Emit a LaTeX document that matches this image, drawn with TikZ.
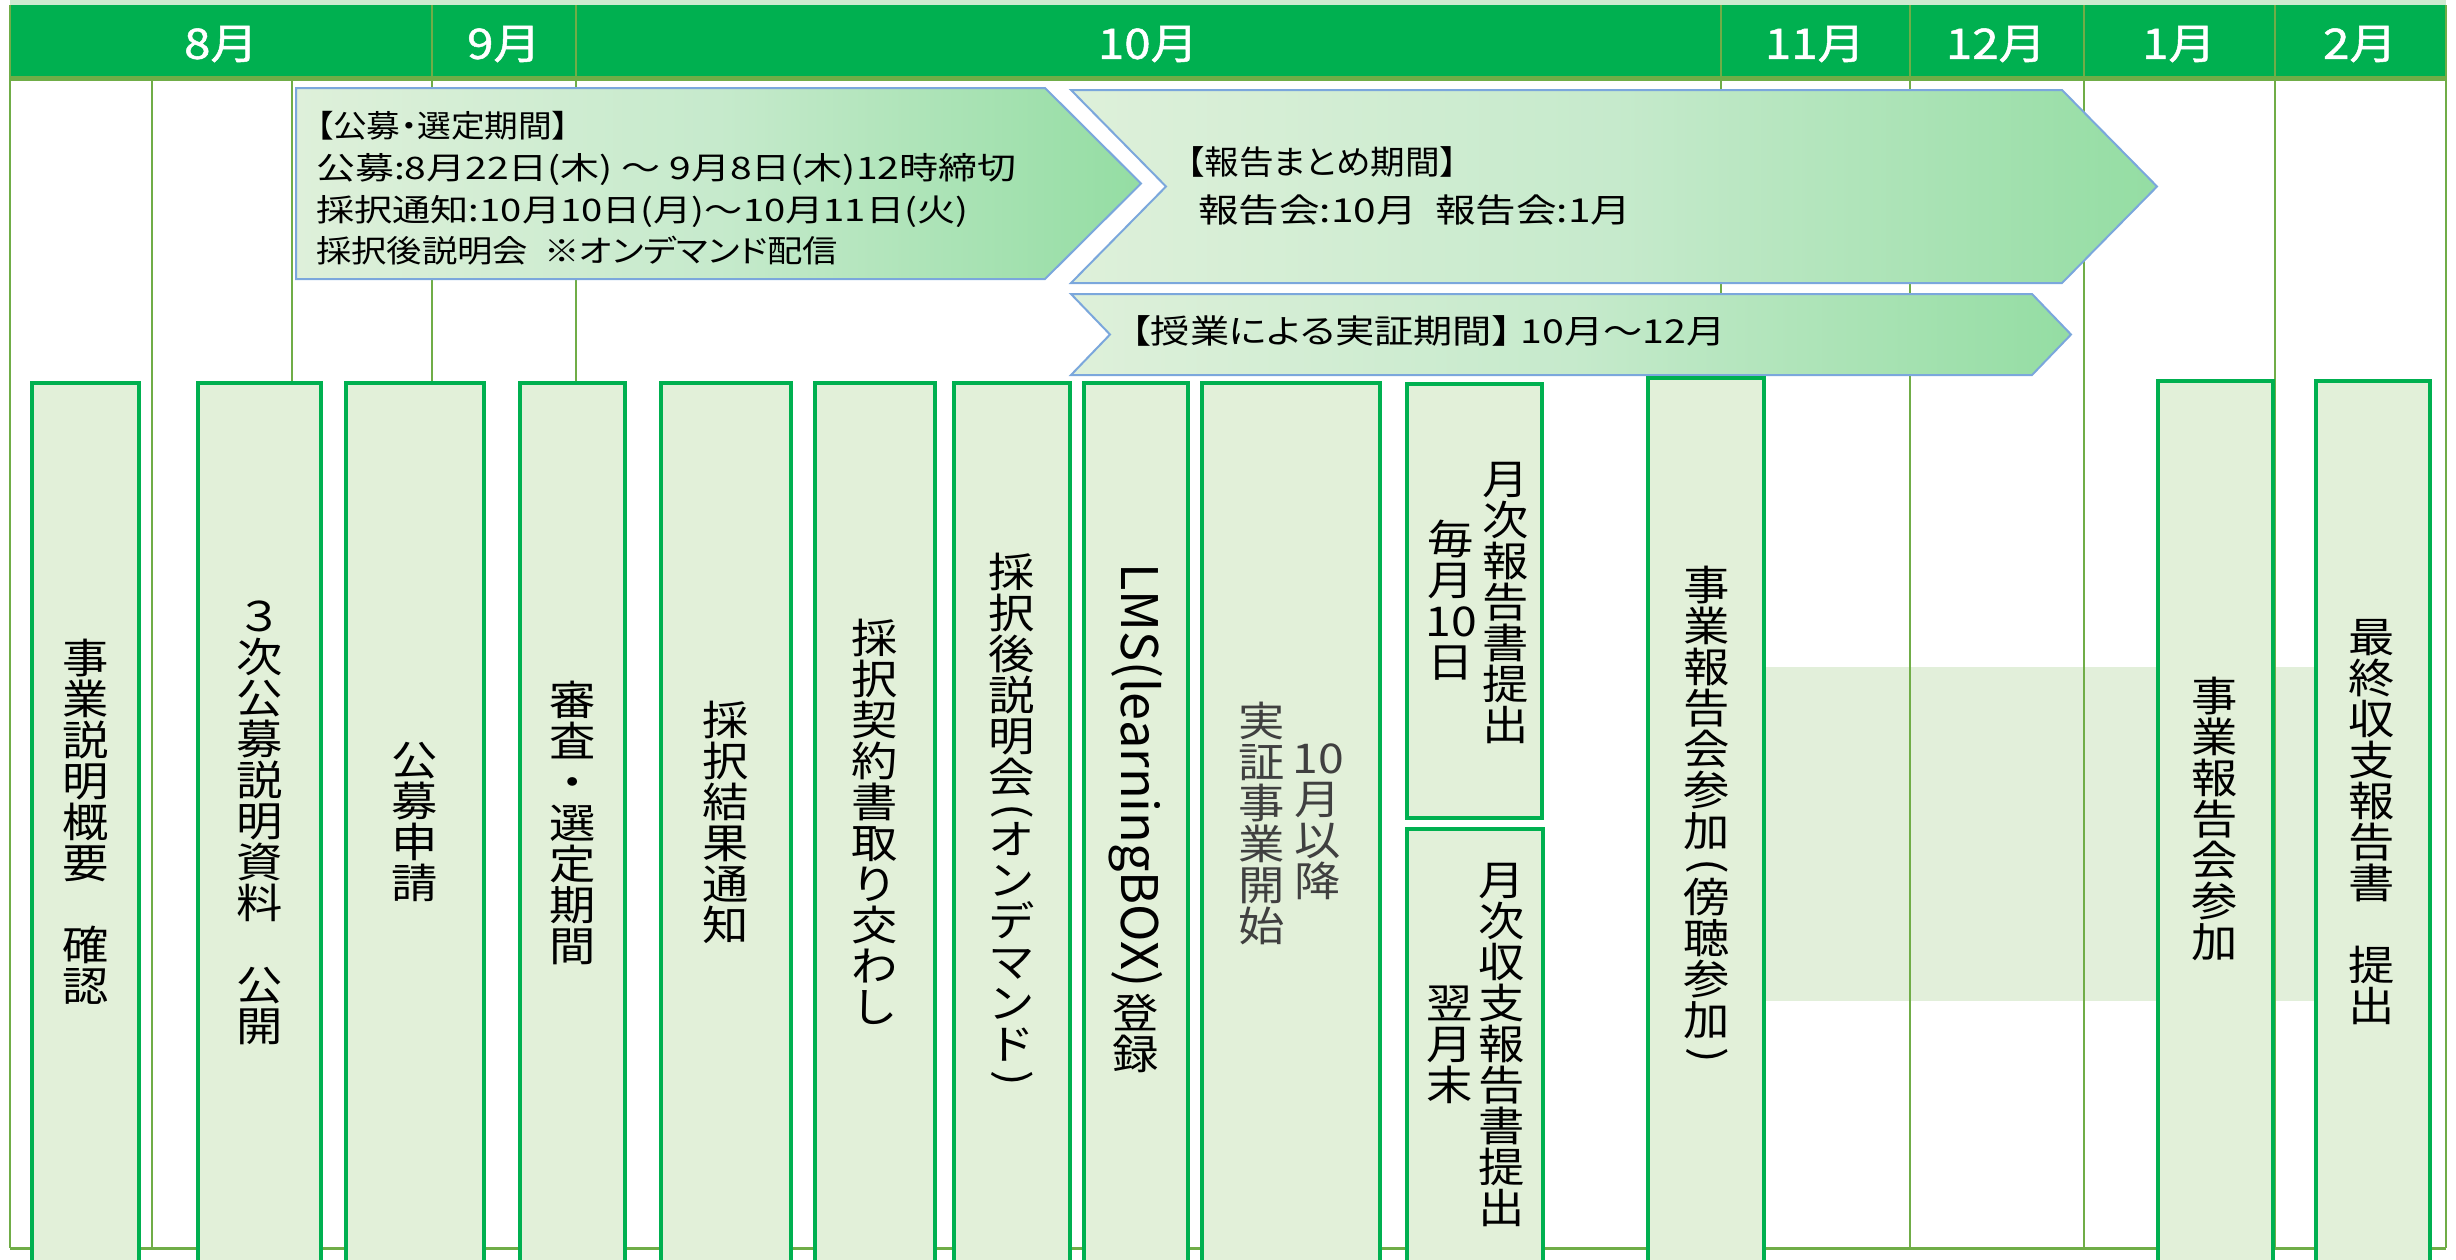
\documentclass[tikz,border=0pt]{standalone}
\usepackage{fontspec}
\usepackage{graphicx}
\newfontfamily\jp[FakeStretch=1.13]{Noto Sans CJK JP}
\newfontfamily\jpm[FakeStretch=1.13,FakeBold=1.2]{Noto Sans CJK JP}
\newfontfamily\jpa[FakeStretch=1.13,RawFeature=+palt]{Noto Sans CJK JP}
\newfontfamily\jpn{Noto Sans CJK JP}
\definecolor{hdrgreen}{HTML}{00B050}
\definecolor{gridolive}{HTML}{70AD47}
\definecolor{boxfill}{HTML}{E2F0D9}
\definecolor{boxline}{HTML}{00B050}
\definecolor{bandfill}{HTML}{E2EFDA}
\definecolor{topstrip}{HTML}{CDEACF}
\definecolor{arrowline}{HTML}{7BA7DC}
\definecolor{agA}{HTML}{DEF0DA}
\definecolor{agB}{HTML}{C6EACC}
\definecolor{agC}{HTML}{94DDA3}
\definecolor{graytext}{HTML}{404040}
\pgfdeclarehorizontalshading{arrowshade}{100bp}{color(0bp)=(agA); color(25bp)=(agA); color(50bp)=(agB); color(75bp)=(agC); color(100bp)=(agC)}
\newcommand\vparen[1]{\rotatebox[origin=c]{-90}{#1}}
\newcommand\vfont{\jp\fontsize{41}{41}\selectfont\lineskiplimit=-100pt\lineskip=0pt\relax}
\newcommand\afontA{\jpa\fontsize{31}{41.7}\selectfont\lineskiplimit=-100pt\relax}
\newcommand\afontB{\jpa\fontsize{33}{48}\selectfont\lineskiplimit=-100pt\relax}
\tikzset{
  gridline/.style={draw=gridolive, line width=2.5pt},
  pbox/.style={draw=boxline, line width=4pt, fill=boxfill, rectangle, inner sep=0pt},
  vtext/.style={align=center, inner sep=0pt, font={\vfont}},
  month/.style={text=white, inner sep=0pt, font={\jpm\fontsize{42}{42}\selectfont}},
  arrowbox/.style={shading=arrowshade, draw=arrowline, line width=2pt},
  atext/.style={align=left, inner sep=0pt, anchor=west},
}
\begin{document}
\begin{tikzpicture}[x=1pt,y=-1pt]
\useasboundingbox (0,0) rectangle (2456,1259);
% header
\fill[topstrip] (10,0) rectangle (2446,5);
\fill[hdrgreen] (10,5) rectangle (2446,78);
% light band
\fill[bandfill] (1766,667) rectangle (2314,1001);
% grid lines
\foreach \gx in {10,432,576,1721,1910,2084,2275,2446}{\draw[gridline] (\gx,5) -- (\gx,1248);}
\foreach \gx in {152,292}{\draw[gridline] (\gx,80) -- (\gx,1248);}
\draw[gridolive, line width=5pt] (10,78) -- (2446,78);
\draw[gridolive, line width=3pt] (10,1248) -- (2446,1248);
% month labels
\node[month] (m8) at (221,44) {8月};
\node[month] (m9) at (504,44) {9月};
\node[month] (m10) at (1148,44) {10月};
\node[month] (m11) at (1815,44) {11月};
\node[month] (m12) at (1996,44) {12月};
\node[month] (m1) at (2179,44) {1月};
\node[month] (m2) at (2360,44) {2月};
% arrows
\shadedraw[arrowbox] (296,88) -- (1045,88) -- (1141,183.5) -- (1045,279) -- (296,279) -- cycle;
\shadedraw[arrowbox] (1071,90) -- (2062,90) -- (2157,186.5) -- (2062,283) -- (1071,283) -- (1166,186.5) -- cycle;
\shadedraw[arrowbox] (1071,294) -- (2032,294) -- (2071,334.5) -- (2032,375) -- (1071,375) -- (1110,334.5) -- cycle;
\node[atext, font={\afontA}] (a1t) at (316,188.5)
 {\resizebox{253pt}{\height}{【公募・選定期間】}\\
  \resizebox{700pt}{\height}{公募:8月22日(木) ～ 9月8日(木)12時締切}\\
  \resizebox{652pt}{\height}{採択通知:10月10日(月)～10月11日(火)}\\
  \resizebox{522pt}{\height}{採択後説明会\ \ ※オンデマンド配信}};
\node[atext, font={\afontB}] (a2t) at (1187,186)
 {\resizebox{270pt}{\height}{【報告まとめ期間】}\\
  \hspace*{11pt}\resizebox{433pt}{\height}{報告会:10月\ \ 報告会:1月}};
\node[atext, font={\jpa\fontsize{33}{33}\selectfont}] (a3t) at (1131,331)
 {\resizebox{594pt}{\height}{【授業による実証期間】 10月～12月}};
% boxes
\node[pbox, minimum width=107pt, minimum height=881pt] (b1) at (85.5,823.5) {};
\node[pbox, minimum width=123pt, minimum height=881pt] (b2) at (259.5,823.5) {};
\node[pbox, minimum width=138pt, minimum height=881pt] (b3) at (415,823.5) {};
\node[pbox, minimum width=105pt, minimum height=881pt] (b4) at (572.5,823.5) {};
\node[pbox, minimum width=130pt, minimum height=881pt] (b5) at (726,823.5) {};
\node[pbox, minimum width=120pt, minimum height=881pt] (b6) at (875,823.5) {};
\node[pbox, minimum width=116pt, minimum height=881pt] (b7) at (1012,823.5) {};
\node[pbox, minimum width=104pt, minimum height=881pt] (b8) at (1136,823.5) {};
\node[pbox, minimum width=178pt, minimum height=881pt] (b9) at (1291,823.5) {};
\node[pbox, minimum width=135pt, minimum height=434pt] (b10a) at (1474.5,601) {};
\node[pbox, minimum width=136pt, minimum height=435pt] (b10b) at (1475,1046.5) {};
\node[pbox, minimum width=116pt, minimum height=884pt] (b11) at (1706,820) {};
\node[pbox, minimum width=115pt, minimum height=881pt] (b12) at (2215.5,821.5) {};
\node[pbox, minimum width=114pt, minimum height=883pt] (b13) at (2373,822.5) {};
% box texts
\node[vtext] (t1) at (85.5,822) {事\\業\\説\\明\\概\\要\\\mbox{}\\確\\認};
\node[vtext] (t2) at (259.5,823) {３\\次\\公\\募\\説\\明\\資\\料\\\mbox{}\\公\\開};
\node[vtext] (t3) at (415,822) {公\\募\\申\\請};
\node[vtext] (t4) at (572.5,823) {審\\査\\・\\選\\定\\期\\間};
\node[vtext] (t5) at (726,822) {採\\択\\結\\果\\通\\知};
\node[vtext] (t6) at (875,822) {採\\択\\契\\約\\書\\取\\り\\交\\わ\\し};
\node[vtext] (t7) at (1012,822) {採\\択\\後\\説\\明\\会\\[-10pt]\vparen{(}\\[-10pt]オ\\ン\\デ\\マ\\ン\\ド\\[-10pt]\vparen{)}};
\node[rotate=-90, anchor=west, inner sep=0pt, font={\jpn\fontsize{48}{48}\selectfont}] (t8a) at (1136,563) {\resizebox{424pt}{!}{LMS(learningBOX)}};
\node[vtext, anchor=north] (t8b) at (1136,994) {登\\録};
\node[vtext, text=graytext] (t9a) at (1318,822) {10\\月\\以\\降};
\node[vtext, text=graytext] (t9b) at (1262,823) {実\\証\\事\\業\\開\\始};
\node[vtext] (t10a1) at (1506,603) {月\\次\\報\\告\\書\\提\\出};
\node[vtext] (t10a2) at (1451,600) {毎\\月\\10\\日};
\node[vtext] (t10b1) at (1502,1045) {月\\次\\収\\支\\報\\告\\書\\提\\出};
\node[vtext] (t10b2) at (1450,1045) {翌\\月\\末};
\node[vtext] (t11) at (1707,817) {事\\業\\報\\告\\会\\参\\加\\[-8pt]\vparen{(}\\[-8pt]傍\\聴\\参\\加\\[-8pt]\vparen{)}};
\node[vtext] (t12) at (2215,819) {事\\業\\報\\告\\会\\参\\加};
\node[vtext] (t13) at (2372,822) {最\\終\\収\\支\\報\\告\\書\\\mbox{}\\提\\出};
\end{tikzpicture}
\end{document}
